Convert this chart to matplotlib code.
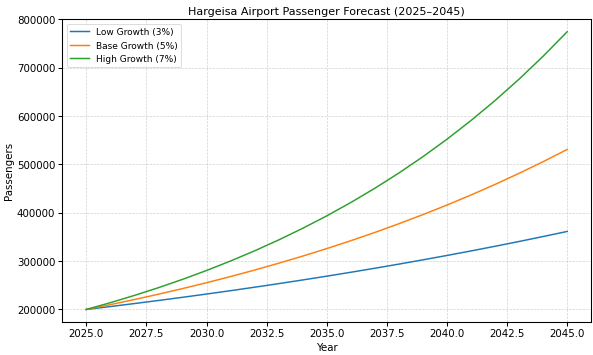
import matplotlib
matplotlib.use("Agg")
import matplotlib.pyplot as plt

# years and passenger forecasts
years = list(range(2025, 2046))
low = [200000, 206000, 212180, 218545, 225102, 231855, 238810, 245975, 253354, 260955,
       268783, 276847, 285152, 293707, 302518, 311593, 320941, 330569, 340486, 350701, 361222]
base = [200000, 210000, 220500, 231525, 243101, 255256, 268019, 281420, 295491, 310266,
        325779, 342068, 359171, 377130, 395986, 415786, 436575, 458404, 481324, 505390, 530660]
high = [200000, 214000, 228980, 245009, 262159, 280510, 300146, 321156, 343637, 367692,
        393430, 420970, 450438, 481969, 515707, 551806, 590433, 631763, 675986, 723305, 773937]
labels = ["Low Growth (3%)", "Base Growth (5%)", "High Growth (7%)"]

fig, ax = plt.subplots(figsize=(10, 6))
fig.subplots_adjust(left=0.105, right=0.997, top=0.944, bottom=0.094)
x = [float(y) for y in years]
ax.plot(x, low, label=labels[0], lw=1.8)
ax.plot(x, base, label=labels[1], lw=1.8)
ax.plot(x, high, label=labels[2], lw=1.8)
ax.set_title("Hargeisa Airport Passenger Forecast (2025\u20132045)", fontsize=13.5)
ax.set_xlabel("Year", fontsize=12.5)
ax.set_ylabel("Passengers", fontsize=12.5)
ax.tick_params(labelsize=12.5, width=1.3, length=5)
for s in ax.spines.values():
    s.set_linewidth(1.3)
ax.legend(fontsize=11)
ax.grid(True, linestyle="--", alpha=0.6)
ax.set_ylim(175000, 800000)
fig.savefig("out.png", dpi=59.3)
